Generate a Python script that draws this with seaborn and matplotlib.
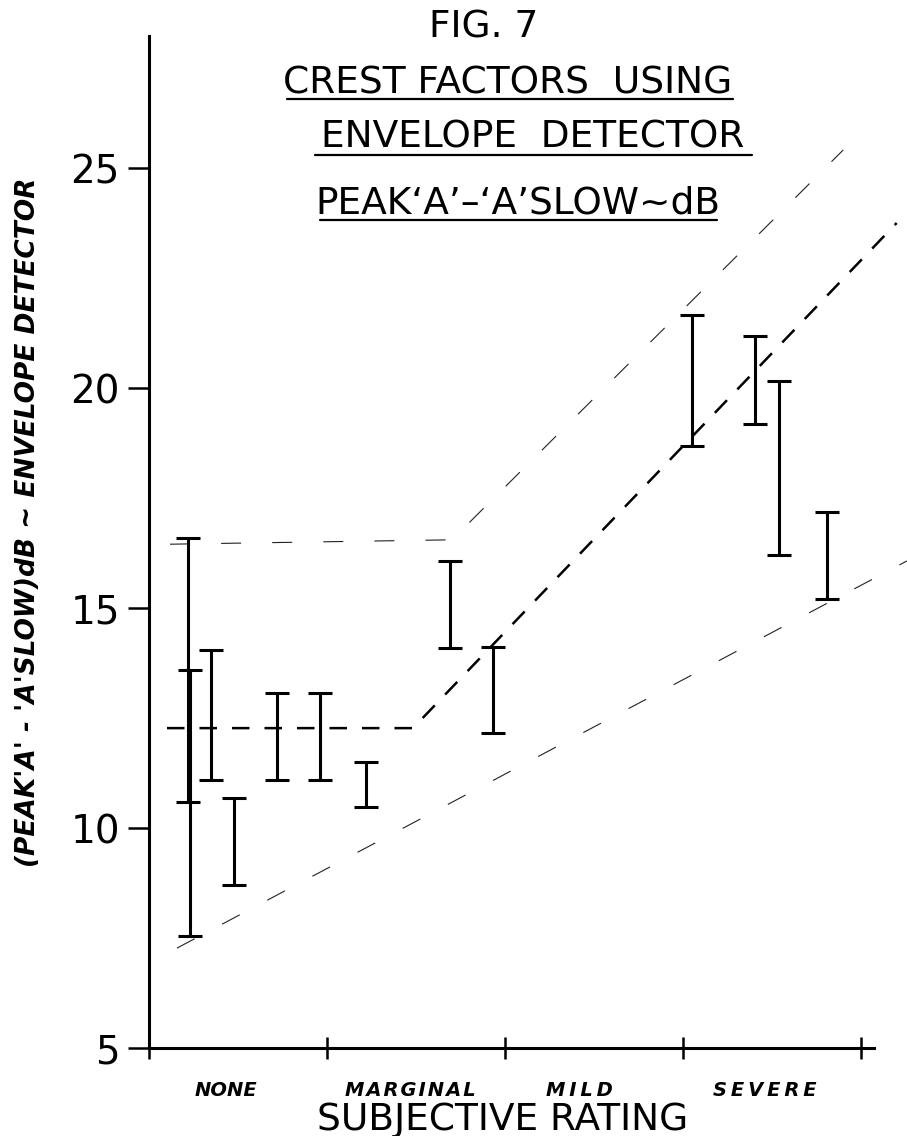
import matplotlib
matplotlib.use('Agg')
import matplotlib.pyplot as plt
from matplotlib.lines import Line2D
import numpy as np
import seaborn as sns

# ======================================================================================================================
# ===================================================== Données ========================================================
# ======================================================================================================================
categories = ['NONE', 'MARGINAL', 'MILD', 'SEVERE']
cat_pos = [0.43, 1.47, 2.42, 3.46]

# plages mesurées (bas / haut) en dB
bar_x = [0.218, 0.232, 0.348, 0.478, 0.719, 0.961, 1.219, 1.691, 1.933, 3.05, 3.404, 3.539, 3.809]
bar_lo = [10.6, 7.55, 11.1, 8.7, 11.1, 11.1, 10.48, 14.09, 12.16, 18.68, 19.18, 16.2, 15.2]
bar_hi = [16.6, 13.6, 14.05, 10.68, 13.07, 13.07, 11.5, 16.07, 14.11, 21.66, 21.18, 20.16, 17.18]

# droites de tendance (pointillés)
mid_x = [0.101, 1.483, 4.20]
mid_y = [12.27, 12.27, 23.75]
up_x = [0.118, 1.702, 3.90]
up_y = [16.45, 16.55, 25.41]
low_x = [0.157, 4.258]
low_y = [7.27, 16.07]

ylabel = "(PEAK'A' - 'A'SLOW)dB ~ ENVELOPE DETECTOR"
xlabel = 'SUBJECTIVE RATING'

# ======================================================================================================================
# ===================================================== Figure =========================================================
# ======================================================================================================================
sns.set_style('white')
plt.rcParams['font.family'] = ['DejaVu Sans']
plt.rcParams['text.color'] = 'k'

W, H = 907, 1136
fig = plt.figure(figsize=(W / 100, H / 100), dpi=100)
ax = fig.add_axes([149 / W, 88 / H, 724.5 / W, 1012 / H])

# lignes de tendance
sns.lineplot(x=mid_x, y=mid_y, color='k', lw=1.8, estimator=None, sort=False, ax=ax)
ax.lines[-1].set_dashes((7, 6))
sns.lineplot(x=up_x, y=up_y, color='#222222', lw=0.8, estimator=None, sort=False, ax=ax)
ax.lines[-1].set_dashes((18, 28))
sns.lineplot(x=low_x, y=low_y, color='#222222', lw=0.8, estimator=None, sort=False, ax=ax)
ax.lines[-1].set_dashes((18, 28))
for l in ax.lines:
    l.set_clip_on(False)

# barres d'erreur
lo = np.array(bar_lo)
hi = np.array(bar_hi)
ax.errorbar(bar_x, (lo + hi) / 2, yerr=(hi - lo) / 2, fmt='none', ecolor='k',
            elinewidth=2.2, capsize=8.5, capthick=2.2, clip_on=False)

ax.set_xlim(0, 4.07)
ax.set_ylim(5, 28)
for s in ['top', 'right']:
    ax.spines[s].set_visible(False)
for s in ['left', 'bottom']:
    ax.spines[s].set_linewidth(2.2)
    ax.spines[s].set_color('k')

ax.set_yticks([5, 10, 15, 20, 25])
ax.tick_params(axis='y', direction='out', length=15, width=1.8, pad=6, labelsize=28, colors='k', left=True)
ax.set_xticks([0, 1, 2, 3, 4])
ax.set_xticklabels([])
ax.tick_params(axis='x', which='major', direction='inout', length=16, width=1.8, colors='k', bottom=True)

# étiquettes des catégories (espacées comme le lettrage)
spacing = {'NONE': '', 'MARGINAL': '\u200a', 'MILD': '\u2009', 'SEVERE': '\u2009'}
ax.set_xticks(cat_pos, minor=True)
ax.set_xticklabels([spacing[c].join(c) for c in categories], minor=True,
                   fontsize=14, fontweight='bold', fontstyle='italic')
ax.tick_params(axis='x', which='minor', length=0, pad=24, labelcolor='k')
ax.grid(False)

# titres
fig.text(484 / W, 1 - 37 / H, 'FIG. 7', fontsize=27, ha='center', va='baseline')
fig.text(508 / W, 1 - 93 / H, 'CREST FACTORS  USING', fontsize=27, ha='center', va='baseline')
fig.text(533 / W, 1 - 148 / H, 'ENVELOPE  DETECTOR', fontsize=27, ha='center', va='baseline')
fig.text(518 / W, 1 - 213 / H, 'PEAK\u2018A\u2019\u2013\u2018A\u2019SLOW~dB', fontsize=27, ha='center', va='baseline')
for x0, x1, y in [(287, 733, 99), (315, 752, 155), (320, 717, 220)]:
    fig.add_artist(Line2D([x0 / W, x1 / W], [1 - y / H, 1 - y / H], color='k', lw=1.6,
                          transform=fig.transFigure))

fig.text(503 / W, 1 - 1130 / H, xlabel, fontsize=27, ha='center', va='baseline')
fig.text(28 / W, 1 - 522 / H, ylabel, fontsize=19, fontweight='bold', fontstyle='italic',
         rotation=90, ha='center', va='center')

fig.savefig('out.png', dpi=100)
